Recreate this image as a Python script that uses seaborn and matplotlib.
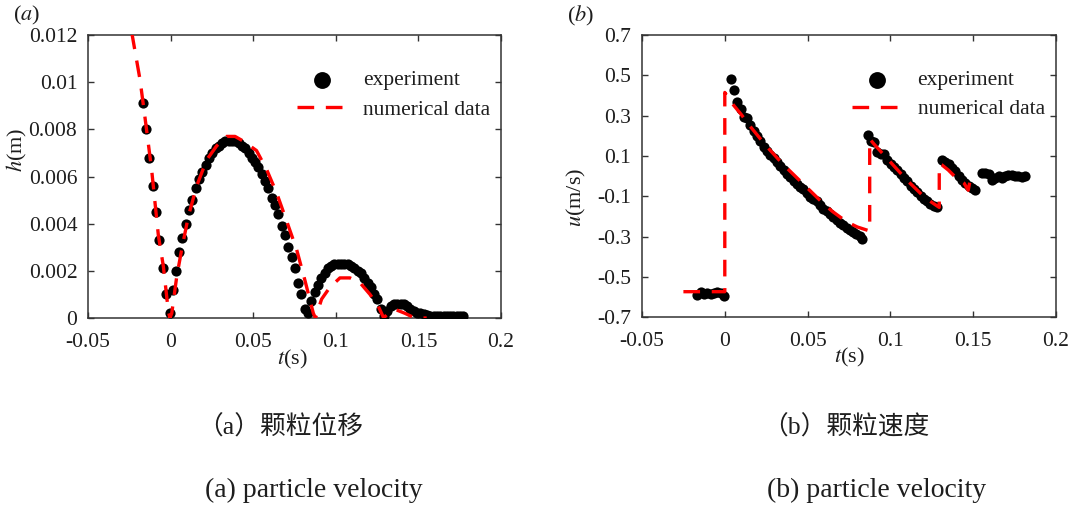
import numpy as np
import pandas as pd
import matplotlib
matplotlib.use("Agg")
import matplotlib.pyplot as plt
import seaborn as sns

# ---------------- data ----------------
# (a) particle displacement, experiment
t_exp_a = [-0.0165, -0.0147, -0.0129, -0.0108, -0.0088, -0.0068, -0.0048, -0.0028, -0.0006,
           0.0016, 0.0034, 0.0052, 0.0072, 0.0092, 0.0112, 0.0132, 0.0152, 0.0172, 0.0192,
           0.0212, 0.0232, 0.0252, 0.0272, 0.0292, 0.0312, 0.0332, 0.0352, 0.0372, 0.0392,
           0.0412, 0.0432, 0.0452, 0.0472, 0.0492, 0.0512, 0.0532, 0.0552, 0.0572, 0.0592,
           0.0612, 0.0632, 0.0652, 0.0672, 0.0692, 0.0712, 0.0732, 0.0752, 0.0772, 0.0792,
           0.0812, 0.0832,
           0.0852, 0.0872, 0.0892, 0.0912, 0.0932, 0.0952, 0.0972, 0.0992, 0.1012, 0.1032,
           0.1052, 0.1072, 0.1092, 0.1112, 0.1132, 0.1152, 0.1172, 0.1192, 0.1212, 0.1232,
           0.1252, 0.1272, 0.1292,
           0.1312, 0.1332, 0.1352, 0.1372, 0.1392, 0.1412, 0.1432, 0.1452, 0.1472, 0.1492,
           0.1512, 0.1532, 0.1552, 0.1572, 0.1592, 0.1612, 0.1632, 0.1652, 0.1672, 0.1692,
           0.1712, 0.1732, 0.1752, 0.1772]
h_exp_a = [0.0091, 0.0080, 0.0068, 0.0056, 0.0045, 0.0033, 0.0021, 0.0010, 0.0002,
           0.0012, 0.0020, 0.0028, 0.0034, 0.0040, 0.0046, 0.0050, 0.0055, 0.0059, 0.0062,
           0.0065, 0.0068, 0.0070, 0.0072, 0.0073, 0.0074, 0.0075, 0.0075, 0.0075, 0.0075,
           0.0074, 0.0073, 0.0072, 0.0070, 0.0068, 0.0066, 0.0064, 0.0061, 0.0058, 0.0055,
           0.0051, 0.0048, 0.0044, 0.0039, 0.0035, 0.0030, 0.0026, 0.0021, 0.0015, 0.0010,
           0.0004, 0.0002,
           0.0007, 0.0011, 0.0014, 0.0017, 0.0019, 0.0021, 0.0022, 0.0023, 0.0023, 0.0023,
           0.0023, 0.0023, 0.0022, 0.0021, 0.0020, 0.0019, 0.0017, 0.0015, 0.0013, 0.0010,
           0.0008, 0.0004, 0.0001,
           0.0003, 0.0005, 0.0006, 0.0006, 0.0006, 0.0006, 0.0005, 0.0004, 0.0003, 0.0002,
           0.0002, 0.00015, 0.00012, 0.0001, 0.0001, 0.0001, 0.0001, 0.00008, 0.0001, 0.0001,
           0.0001, 0.00008, 0.0001, 0.0001]

# (a) numerical data
t_num_a = [-0.0235, -0.0185, -0.0155, -0.0115, -0.0074, -0.0044, -0.0014, -0.0004, 0.0007,
           0.0037, 0.0067, 0.0107, 0.0158, 0.0218, 0.0279, 0.0340, 0.0390, 0.0440, 0.0520,
           0.0581, 0.0642, 0.0703, 0.0763, 0.0813, 0.0864, 0.0877, 0.0914, 0.0964, 0.1025,
           0.1086, 0.1146, 0.1207, 0.1257, 0.1290, 0.1317, 0.1368, 0.1418, 0.1469, 0.1520,
           0.1550]
h_num_a = [0.0121, 0.0101, 0.0085, 0.0063, 0.0035, 0.0022, 0.0003, 0.0, 0.0002,
           0.00175, 0.0029, 0.0043, 0.0056, 0.0067, 0.0073, 0.0077, 0.0077, 0.0075, 0.0071,
           0.0063, 0.0053, 0.0041, 0.0029, 0.0016, 0.0002, 0.0, 0.0008, 0.0013, 0.0017,
           0.0017, 0.0015, 0.0010, 0.0005, 0.0, 0.0002, 0.00034, 0.0002, 0.00003, 0.0,
           0.0]

# (b) particle velocity, experiment
t_exp_b = [-0.0165, -0.0145, -0.0125, -0.0105, -0.0085, -0.0065, -0.0045, -0.0025, -0.0005,
           0.0035, 0.0055, 0.0075, 0.0095, 0.0115, 0.0135, 0.0155, 0.0175, 0.0195, 0.0215,
           0.0235, 0.0255, 0.0275, 0.0295, 0.0315, 0.0335, 0.0355, 0.0375, 0.0395, 0.0415,
           0.0435, 0.0455, 0.0475, 0.0495, 0.0515, 0.0535, 0.0555, 0.0575, 0.0595, 0.0615,
           0.0635, 0.0655, 0.0675, 0.0695, 0.0715, 0.0735, 0.0755, 0.0775, 0.0795, 0.0815,
           0.0830,
           0.0862, 0.0882, 0.0902, 0.0922, 0.0942, 0.0962, 0.0982, 0.1002, 0.1022, 0.1042,
           0.1062, 0.1082, 0.1102, 0.1122, 0.1142, 0.1162, 0.1182, 0.1202, 0.1222, 0.1242,
           0.1262, 0.1282,
           0.1312, 0.1332, 0.1352, 0.1372, 0.1392, 0.1412, 0.1432, 0.1452, 0.1472, 0.1492,
           0.1512,
           0.1553, 0.1573, 0.1593, 0.1613, 0.1633, 0.1653, 0.1673, 0.1693, 0.1713, 0.1733,
           0.1753, 0.1773, 0.1793, 0.1813]
u_exp_b = [-0.590, -0.575, -0.582, -0.578, -0.585, -0.578, -0.575, -0.580, -0.595,
           0.480, 0.427, 0.370, 0.332, 0.295, 0.286, 0.255, 0.224, 0.200, 0.175,
           0.146, 0.123, 0.104, 0.088, 0.070, 0.051, 0.032, 0.012, -0.005, -0.024,
           -0.040, -0.054, -0.063, -0.085, -0.104, -0.112, -0.122, -0.141, -0.161, -0.172,
           -0.186, -0.203, -0.218, -0.230, -0.243, -0.255, -0.267, -0.276, -0.286, -0.298,
           -0.313,
           0.204, 0.172, 0.168, 0.122, 0.112, 0.108, 0.080, 0.060, 0.047, 0.030,
           0.011, -0.008, -0.022, -0.050, -0.062, -0.080, -0.098, -0.112, -0.124, -0.138,
           -0.148, -0.155,
           0.080, 0.070, 0.058, 0.042, 0.025, 0.002, -0.018, -0.032, -0.048, -0.060,
           -0.070,
           0.014, 0.017, 0.010, -0.019, -0.008, 0.000, -0.010, 0.002, 0.008, 0.004,
           0.002, 0.001, -0.002, 0.000]

# (b) numerical data
t_num_b = [-0.0250, 0.0, 0.0, 0.0030, 0.0060, 0.0100, 0.0150, 0.0200, 0.0250, 0.0300,
           0.0350, 0.0400, 0.0450, 0.0500, 0.0550, 0.0600, 0.0650, 0.0700, 0.0750, 0.0800,
           0.0875, 0.0875, 0.0900, 0.0950, 0.1000, 0.1050, 0.1100, 0.1150, 0.1200, 0.1250,
           0.1295, 0.1295, 0.1312, 0.1350, 0.1390, 0.1445, 0.1470, 0.1485, 0.1520]
u_num_b = [-0.573, -0.573, 0.415, 0.375, 0.345, 0.305, 0.250, 0.200, 0.150, 0.105,
           0.060, 0.020, -0.020, -0.060, -0.100, -0.140, -0.175, -0.205, -0.232, -0.252,
           -0.272, 0.185, 0.160, 0.115, 0.070, 0.025, -0.020, -0.060, -0.100, -0.130,
           -0.155, 0.060, 0.055, 0.030, -0.003, -0.035, -0.070, -0.005, 0.000]

x_ticks = [-0.05, 0, 0.05, 0.1, 0.15, 0.2]
x_ticklabels = ["-0.05", "0", "0.05", "0.1", "0.15", "0.2"]
ya_ticks = [0, 0.002, 0.004, 0.006, 0.008, 0.01, 0.012]
ya_ticklabels = ["0", "0.002", "0.004", "0.006", "0.008", "0.01", "0.012"]
yb_ticks = [-0.7, -0.5, -0.3, -0.1, 0.1, 0.3, 0.5, 0.7]
yb_ticklabels = ["-0.7", "-0.5", "-0.3", "-0.1", "0.1", "0.3", "0.5", "0.7"]

captions_cn = ["（a）颗粒位移", "（b）颗粒速度"]
captions_en = ["(a) particle velocity", "(b) particle velocity"]
labels = ["experiment", "numerical data"]

# ---------------- style ----------------
sns.set_theme(style="ticks")
plt.rcParams["font.family"] = ["Liberation Serif", "Noto Sans CJK SC"]
plt.rcParams["mathtext.fontset"] = "stix"
plt.rcParams["axes.unicode_minus"] = False

TXT = "#1e1e1e"
SPINE = "#333333"

fig = plt.figure(figsize=(10.73, 5.12), dpi=100)
ax1 = fig.add_axes([88 / 1073, (512 - 318) / 512, 413 / 1073, 283 / 512])
ax2 = fig.add_axes([642 / 1073, (512 - 317.3) / 512, 414 / 1073, 282.3 / 512])

dash = (0, (5, 3.5))

def draw(ax, te, ye, tn, yn):
    sns.scatterplot(x=te, y=ye, ax=ax, color="black", s=54, linewidth=0,
                    label=labels[0], zorder=3)
    sns.lineplot(x=tn, y=yn, ax=ax, color="#ff0000", linewidth=2.4, sort=False,
                 estimator=None, errorbar=None, linestyle=dash, label=labels[1], zorder=4)

draw(ax1, t_exp_a, h_exp_a, t_num_a, h_num_a)
draw(ax2, t_exp_b, u_exp_b, t_num_b, u_num_b)

ax1.set_xlim(-0.05, 0.2)
ax1.set_ylim(0, 0.012)
ax2.set_xlim(-0.05, 0.2)
ax2.set_ylim(-0.7, 0.7)

for ax, yt, ytl in [(ax1, ya_ticks, ya_ticklabels), (ax2, yb_ticks, yb_ticklabels)]:
    ax.set_xticks(x_ticks)
    ax.set_xticklabels(x_ticklabels)
    ax.set_yticks(yt)
    ax.set_yticklabels(ytl)
    ax.tick_params(axis="both", direction="in", length=4, width=1.0, color=SPINE,
                   top=True, right=True, labelsize=15.5, labelcolor=TXT)
    ax.tick_params(axis="x", pad=10.5)
    ax.tick_params(axis="y", pad=7.7)
    for sp in ax.spines.values():
        sp.set_visible(True)
        sp.set_color(SPINE)
        sp.set_linewidth(1.1)
    leg = ax.legend(loc="upper left", bbox_to_anchor=(0.507, 0.875), frameon=False,
                    fontsize=15.5, handlelength=2.3, handletextpad=0.75,
                    labelspacing=0.42, borderpad=0, borderaxespad=0, markerscale=1.65)
    for txt in leg.get_texts():
        txt.set_color(TXT)

ax1.set_ylabel("$h$(m)", fontsize=16, color=TXT, va="center")
ax1.yaxis.set_label_coords(-0.172, 0.594)
ax1.set_xlabel("$t$(s)", fontsize=16, color=TXT, va="center")
ax1.xaxis.set_label_coords(0.496, -0.148)

ax2.set_ylabel("$u$(m/s)", fontsize=16, color=TXT, va="center")
ax2.yaxis.set_label_coords(-0.158, 0.424)
ax2.set_xlabel("$t$(s)", fontsize=16, color=TXT, va="center")
ax2.xaxis.set_label_coords(0.5, -0.144)

fig.text(12.7 / 1073, 1 - 15 / 512, "($a$)", fontsize=16, color=TXT, va="center", ha="left")
fig.text(566.6 / 1073, 1 - 16 / 512, "($b$)", fontsize=16, color=TXT, va="center", ha="left")

fig.text(197 / 1073, 1 - 427 / 512, captions_cn[0], fontsize=18.5, color=TXT, va="center", ha="left")
fig.text(762 / 1073, 1 - 427 / 512, captions_cn[1], fontsize=18.5, color=TXT, va="center", ha="left")
fig.text(205 / 1073, 1 - 490 / 512, captions_en[0], fontsize=20, color=TXT, va="center", ha="left")
fig.text(767 / 1073, 1 - 490 / 512, captions_en[1], fontsize=20, color=TXT, va="center", ha="left")

fig.savefig("out.png", dpi=100, facecolor="white")
